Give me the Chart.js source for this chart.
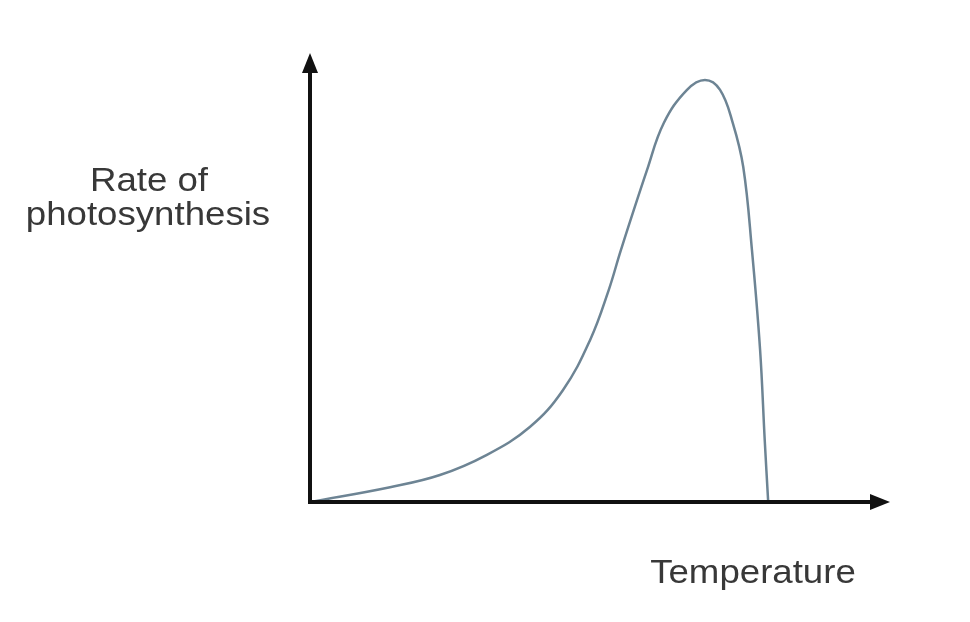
<!DOCTYPE html>
<html>
<head>
<meta charset="utf-8">
<script src="https://cdn.jsdelivr.net/npm/chart.js@4.4.1/dist/chart.umd.min.js"></script>
<style>
    html, body { margin: 0; padding: 0; background: #ffffff; }
    #wrap { width: 970px; height: 622px; position: relative; }
</style>
</head>
<body>
<div id="wrap"><canvas id="rateChart" width="970" height="622"></canvas></div>
<script>
// Curve (arbitrary units, 0-100 on both axes)
const temperature = [0, 13.8, 22.4, 30.5, 37.9, 43.6, 48.3, 51.5, 53.6, 58.1, 61.0, 65.0, 68.1, 70.7, 72.9, 74.7, 76.2, 77.6, 78.4, 79.0];
const rate        = [0, 3.3, 6.0, 10.5, 16.7, 24.9, 36.1, 47.2, 56.1, 73.9, 84.4, 91.8, 94.0, 91.8, 84.4, 74.6, 56.1, 33.9, 13.8, 0];

const yLabelLines = ['Rate of', 'photosynthesis'];
const xLabel = 'Temperature';

const points = temperature.map((t, i) => ({ x: t, y: rate[i] }));

function stretchedText(ctx, text, cx, baseline, sx) {
    ctx.save();
    ctx.translate(cx, baseline);
    ctx.scale(sx, 1);
    ctx.fillText(text, 0, 0);
    ctx.restore();
}

// Axes with arrowheads plus the two axis labels
const sketchAxes = {
    id: 'sketchAxes',
    afterDatasetsDraw(chart) {
        const { ctx, chartArea: a } = chart;
        ctx.save();
        ctx.strokeStyle = '#111';
        ctx.fillStyle = '#111';
        ctx.lineWidth = 4;
        ctx.lineCap = 'butt';

        // y axis
        ctx.beginPath();
        ctx.moveTo(a.left, a.bottom + 2);
        ctx.lineTo(a.left, a.top + 14);
        ctx.stroke();
        ctx.beginPath();
        ctx.moveTo(a.left, a.top);
        ctx.lineTo(a.left - 8, a.top + 20);
        ctx.lineTo(a.left + 8, a.top + 20);
        ctx.closePath();
        ctx.fill();

        // x axis
        ctx.beginPath();
        ctx.moveTo(a.left - 2, a.bottom);
        ctx.lineTo(a.right - 14, a.bottom);
        ctx.stroke();
        ctx.beginPath();
        ctx.moveTo(a.right, a.bottom);
        ctx.lineTo(a.right - 20, a.bottom - 8);
        ctx.lineTo(a.right - 20, a.bottom + 8);
        ctx.closePath();
        ctx.fill();

        // labels
        ctx.fillStyle = '#383838';
        ctx.font = '33px "Liberation Sans", Arial, sans-serif';
        ctx.textAlign = 'center';
        ctx.textBaseline = 'alphabetic';
        stretchedText(ctx, yLabelLines[0], 149, 191, 1.11);
        stretchedText(ctx, yLabelLines[1], 148, 225, 1.11);
        stretchedText(ctx, xLabel, 753, 583, 1.11);
        ctx.restore();
    }
};

new Chart(document.getElementById('rateChart'), {
    type: 'line',
    data: {
        datasets: [{
            data: points,
            borderColor: '#6d8494',
            borderWidth: 2.5,
            pointRadius: 0,
            fill: false,
            tension: 0.4
        }]
    },
    options: {
        responsive: false,
        animation: false,
        layout: { padding: { left: 310, right: 80, top: 53, bottom: 120 } },
        plugins: { legend: { display: false }, tooltip: { enabled: false } },
        scales: {
            x: { type: 'linear', min: 0, max: 100, display: false },
            y: { min: 0, max: 100, display: false }
        }
    },
    plugins: [sketchAxes]
});
</script>
</body>
</html>
